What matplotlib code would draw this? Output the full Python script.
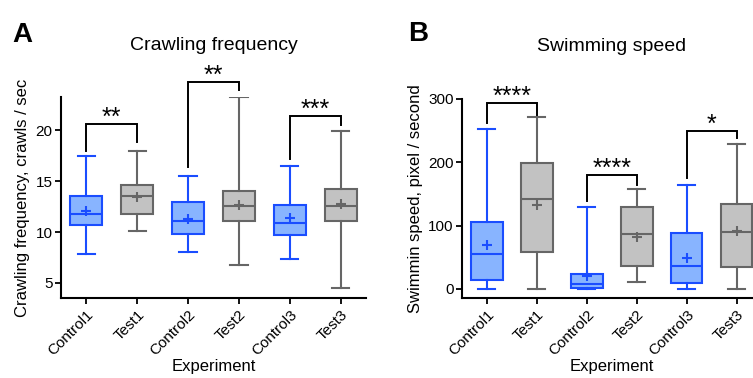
import matplotlib
matplotlib.use("Agg")
import matplotlib.pyplot as plt

plt.rcParams['font.family'] = ['Liberation Sans', 'DejaVu Sans']

groups = ['Control1', 'Test1', 'Control2', 'Test2', 'Control3', 'Test3']

# panel A: crawling frequency (whislo, q1, med, q3, whishi, mean)
crawl_lo = [7.85, 10.1, 8.0, 6.8, 7.35, 4.5]
crawl_q1 = [10.7, 11.8, 9.8, 11.05, 9.7, 11.1]
crawl_med = [11.8, 13.5, 11.1, 12.6, 10.85, 12.6]
crawl_q3 = [13.5, 14.6, 13.0, 14.05, 12.7, 14.2]
crawl_hi = [17.5, 18.0, 15.5, 23.3, 16.5, 19.9]
crawl_mean = [12.1, 13.4, 11.3, 12.7, 11.35, 12.75]

# panel B: swimming speed
swim_lo = [0, 0, 0, 11.5, 0, 0]
swim_q1 = [14.7, 58, 1.5, 37, 9, 35]
swim_med = [55, 141.5, 8.5, 86, 37, 89.5]
swim_q3 = [105, 199, 24, 129, 89, 134.5]
swim_hi = [252, 271, 130, 157, 164, 229]
swim_mean = [69, 132, 21, 82.5, 49.5, 91.5]

# significance brackets: (left idx, right idx, top, left leg end, right leg end, label)
crawl_sig = [(0, 1, 20.65, 17.95, 18.85, '**'),
             (2, 3, 24.7, 16.4, 24.0, '**'),
             (4, 5, 21.4, 17.2, 20.5, '***')]
swim_sig = [(0, 1, 293, 261, 274, '****'),
            (2, 3, 179, 139, 164, '****'),
            (4, 5, 249, 174.6, 238.6, '*')]

BLUE_FILL, BLUE_EDGE = '#88b4ff', '#1a4dff'
GRAY_FILL, GRAY_EDGE = '#c2c2c2', '#666666'


def draw_panel(ax, lo, q1, med, q3, hi, mean, sig, ylim, yticks, ylabel, title, star_off):
    for i in range(len(groups)):
        is_ctrl = i % 2 == 0
        fill = BLUE_FILL if is_ctrl else GRAY_FILL
        edge = BLUE_EDGE if is_ctrl else GRAY_EDGE
        st = [dict(whislo=lo[i], q1=q1[i], med=med[i], q3=q3[i], whishi=hi[i],
                   mean=mean[i], fliers=[])]
        ax.bxp(st, positions=[i], widths=0.63, patch_artist=True, showmeans=True,
               boxprops=dict(facecolor=fill, edgecolor=edge, linewidth=1.5),
               medianprops=dict(color=edge, linewidth=1.5),
               whiskerprops=dict(color=edge, linewidth=1.5),
               capprops=dict(color=edge, linewidth=1.5),
               meanprops=dict(marker='+', markeredgecolor=edge, markersize=7,
                              markeredgewidth=1.5),
               capwidths=0.34)
    for a, b, top, la, lb, lab in sig:
        ax.plot([a, a, b, b], [la, top, top, lb], color='black', lw=1.4,
                clip_on=False, solid_joinstyle='miter')
        ax.text((a + b) / 2, top + star_off, lab, ha='center', va='center',
                fontsize=18, clip_on=False)
    ax.set_xlim(-0.5, 5.5)
    ax.set_ylim(*ylim)
    ax.set_yticks(yticks)
    ax.set_xticks(range(len(groups)))
    ax.set_xticklabels(groups, rotation=45, ha='right', rotation_mode='anchor',
                       fontsize=11)
    ax.tick_params(axis='y', labelsize=11, length=4, width=1.3, pad=2)
    ax.tick_params(axis='x', length=4.5, width=1.3, pad=2)
    for s in ['top', 'right']:
        ax.spines[s].set_visible(False)
    for s in ['left', 'bottom']:
        ax.spines[s].set_linewidth(1.5)
    ax.set_xlabel('Experiment', fontsize=12, labelpad=1)
    ax.set_ylabel(ylabel, fontsize=12)
    ax.set_title(title, fontsize=14, pad=34)


fig = plt.figure(figsize=(7.53, 3.78), dpi=100)
ax1 = fig.add_axes([0.081, 0.211, 0.405, 0.532])
ax2 = fig.add_axes([0.6135, 0.211, 0.398, 0.528])

draw_panel(ax1, crawl_lo, crawl_q1, crawl_med, crawl_q3, crawl_hi, crawl_mean,
           crawl_sig, (3.5, 23.25), [5, 10, 15, 20],
           'Crawling frequency, crawls / sec', 'Crawling frequency', 0.6)
draw_panel(ax2, swim_lo, swim_q1, swim_med, swim_q3, swim_hi, swim_mean,
           swim_sig, (-14.6, 300), [0, 100, 200, 300],
           'Swimmin speed, pixel / second', 'Swimming speed', 10)

fig.text(0.017, 0.889, 'A', fontsize=20, fontweight='bold')
fig.text(0.542, 0.892, 'B', fontsize=20, fontweight='bold')

fig.savefig('out.png', dpi=100)
